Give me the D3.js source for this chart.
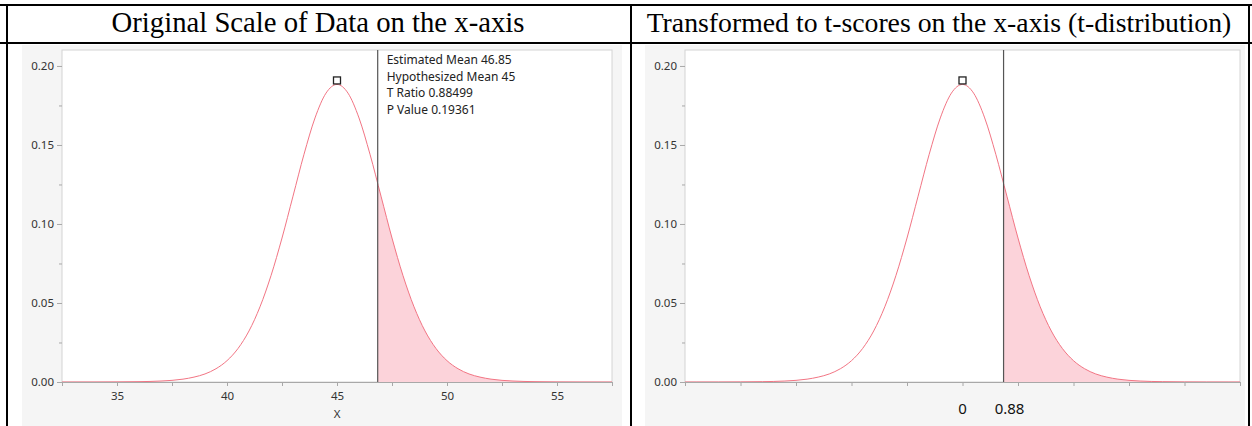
<!DOCTYPE html>
<html lang="en">
<head>
    <meta charset="UTF-8">
    <title>t-test: original scale vs t-scores</title>
    <style>
        body, html {
            margin: 0;
            padding: 0;
            background: #ffffff;
        }
        svg { display: block; }
        .title {
            font-family: 'Palatino Linotype', 'Book Antiqua', 'Liberation Serif', serif;
            fill: #000;
        }
        .tick text, .axis-name {
            font-family: 'Noto Sans', 'Open Sans', sans-serif;
            font-size: 11.5px;
            fill: #333;
        }
        .stat {
            font-family: 'Noto Sans', 'Open Sans', sans-serif;
            font-size: 12px;
            fill: #222;
        }
        .tlabel {
            font-family: 'Noto Sans', 'Open Sans', sans-serif;
            font-size: 15px;
            fill: #111;
        }
        .axis path, .axis line { stroke: #a8a8a8; }
    </style>
</head>
<body>
    <svg width="1252" height="426"></svg>

    <script src="https://d3js.org/d3.v7.min.js"></script>
    <script>
        // density curve (X on the original scale)
        const densityX = [32.5, 33, 34, 35, 36, 37, 38, 38.5, 39, 39.5, 40, 40.5, 41, 41.5, 42, 42.5,
            43, 43.5, 44, 44.5, 45, 45.5, 46, 46.5, 47, 47.5, 48, 48.5, 49, 49.5, 50, 50.5,
            51, 51.5, 52, 53, 54, 55, 56, 57, 57.5];
        const densityY = [0.00001, 0.00001, 0.00002, 0.00007, 0.00021, 0.00062, 0.0018, 0.0031, 0.0051, 0.0084,
            0.0135, 0.0212, 0.0323, 0.0476, 0.0673, 0.0911, 0.1176, 0.1441, 0.1671, 0.1828,
            0.1883, 0.1828, 0.1671, 0.1441, 0.1176, 0.0911, 0.0673, 0.0476, 0.0323, 0.0212,
            0.0135, 0.0084, 0.0051, 0.0031, 0.0018, 0.00062, 0.00021, 0.00007, 0.00002, 0.00001, 0.00001];

        const titles = ["Original Scale of Data on the x-axis",
                        "Transformed to t-scores on the x-axis (t-distribution)"];
        const yTicks = [0, 0.05, 0.10, 0.15, 0.20];
        const yMinorTicks = [0.025, 0.075, 0.125, 0.175];
        const xTicks = [35, 40, 45, 50, 55];
        const xMinorTicks = [32.5, 35, 37.5, 40, 42.5, 45, 47.5, 50, 52.5, 55, 57.5];
        const tScoreAt = [45, 46.85];
        const tScoreLabels = ["0", "0.88"];
        const statLines = ["Estimated Mean 46.85", "Hypothesized Mean 45", "T Ratio 0.88499", "P Value 0.19361"];
        const estimatedMean = 46.85;
        const peak = { x: 45, y: 0.1883 };

        const data = densityX.map((x, i) => ({ x: x, y: densityY[i] }));

        const svg = d3.select("svg");

        // ---- table frame (two cells, header row) ----
        const cells = [{ x0: 7, x1: 631 }, { x0: 631, x1: 1249 }];
        const border = svg.append("g").attr("stroke", "#000").attr("stroke-width", 2);
        border.append("line").attr("x1", 0).attr("x2", 1252).attr("y1", 5).attr("y2", 5);
        border.append("line").attr("x1", 0).attr("x2", 1252).attr("y1", 43).attr("y2", 43);
        [7, 631, 1249].forEach(x => border.append("line")
            .attr("x1", x).attr("x2", x).attr("y1", 4).attr("y2", 426));

        cells.forEach((c, i) => {
            const t = svg.append("text").attr("class", "title")
                .attr("x", (c.x0 + c.x1) / 2 - 1)
                .attr("y", 32)
                .attr("text-anchor", "middle")
                .style("font-size", "24px")
                .text(titles[i]);
            const target = i === 0 ? 413 : 585;
            const w = t.node().getComputedTextLength();
            t.style("font-size", (24 * target / w).toFixed(2) + "px");
        });

        // ---- one JMP style panel ----
        function drawPanel(opt) {
            const g = svg.append("g");
            g.append("rect")
                .attr("x", opt.bgX).attr("y", 45)
                .attr("width", 600).attr("height", 381)
                .attr("fill", "#f5f5f5");

            const x = d3.scaleLinear().domain([32.5, 57.5]).range([opt.left, opt.right]);
            const y = d3.scaleLinear().domain([0, 0.2101]).range([382, 50]);

            g.append("rect")
                .attr("x", opt.left).attr("y", 50)
                .attr("width", opt.right - opt.left).attr("height", 332)
                .attr("fill", "#fff").attr("stroke", "#d4d4d4");

            const clipId = "clip" + opt.id;
            g.append("clipPath").attr("id", clipId)
                .append("rect")
                .attr("x", x(estimatedMean)).attr("y", 50)
                .attr("width", opt.right - x(estimatedMean)).attr("height", 332);

            const area = d3.area().x(d => x(d.x)).y0(y(0)).y1(d => y(d.y)).curve(d3.curveMonotoneX);
            const line = d3.line().x(d => x(d.x)).y(d => y(d.y)).curve(d3.curveMonotoneX);

            g.append("path").datum(data)
                .attr("d", area)
                .attr("fill", "#fcd3da")
                .attr("clip-path", `url(#${clipId})`);

            g.append("path").datum(data)
                .attr("d", line)
                .attr("fill", "none")
                .attr("stroke", "#f27584")
                .attr("stroke-width", 1);

            // y axis
            const ya = g.append("g").attr("class", "axis")
                .attr("transform", `translate(${opt.left},0)`)
                .call(d3.axisLeft(y).tickValues(yTicks).tickFormat(d3.format(".2f")).tickSize(5).tickPadding(3));
            ya.select(".domain").remove();
            g.append("g").attr("class", "axis")
                .attr("transform", `translate(${opt.left},0)`)
                .call(d3.axisLeft(y).tickValues(yMinorTicks).tickFormat("").tickSize(3))
                .select(".domain").remove();

            // x axis
            const xa = g.append("g").attr("class", "axis")
                .attr("transform", "translate(0,382)")
                .call(d3.axisBottom(x).tickValues(xMinorTicks).tickFormat("").tickSize(4).tickSizeOuter(0));
            xa.select(".domain").attr("stroke", "#a0a0a0");

            if (opt.labels) {
                g.append("g").attr("class", "axis")
                    .attr("transform", "translate(0,382)")
                    .call(d3.axisBottom(x).tickValues(xTicks).tickSize(4).tickPadding(6))
                    .select(".domain").remove();
                g.append("text").attr("class", "axis-name")
                    .attr("x", x(45)).attr("y", 418)
                    .attr("text-anchor", "middle")
                    .text("X");
            } else {
                g.selectAll(".tlabel").data(tScoreLabels).enter()
                    .append("text").attr("class", "tlabel")
                    .attr("x", (d, i) => x(tScoreAt[i]) + (i === 1 ? 6 : 0))
                    .attr("y", 414)
                    .attr("text-anchor", "middle")
                    .text(d => d);
            }

            // hypothesised cut line
            g.append("line")
                .attr("x1", x(estimatedMean)).attr("x2", x(estimatedMean))
                .attr("y1", 50).attr("y2", 382)
                .attr("stroke", "#555").attr("stroke-width", 1.2);

            // peak marker
            g.append("rect")
                .attr("x", x(peak.x) - 3.5).attr("y", y(peak.y) - 7.5)
                .attr("width", 7).attr("height", 7)
                .attr("fill", "#fff").attr("stroke", "#222").attr("stroke-width", 1.3);

            if (opt.stats) {
                g.selectAll(".stat").data(statLines).enter()
                    .append("text").attr("class", "stat")
                    .attr("x", x(estimatedMean) + 9)
                    .attr("y", (d, i) => 64 + i * 16.5)
                    .text(d => d);
            }
        }

        drawPanel({ id: 0, bgX: 22, left: 62, right: 612, labels: true, stats: true });
        drawPanel({ id: 1, bgX: 645, left: 685, right: 1240, labels: false, stats: false });
    </script>
</body>
</html>
